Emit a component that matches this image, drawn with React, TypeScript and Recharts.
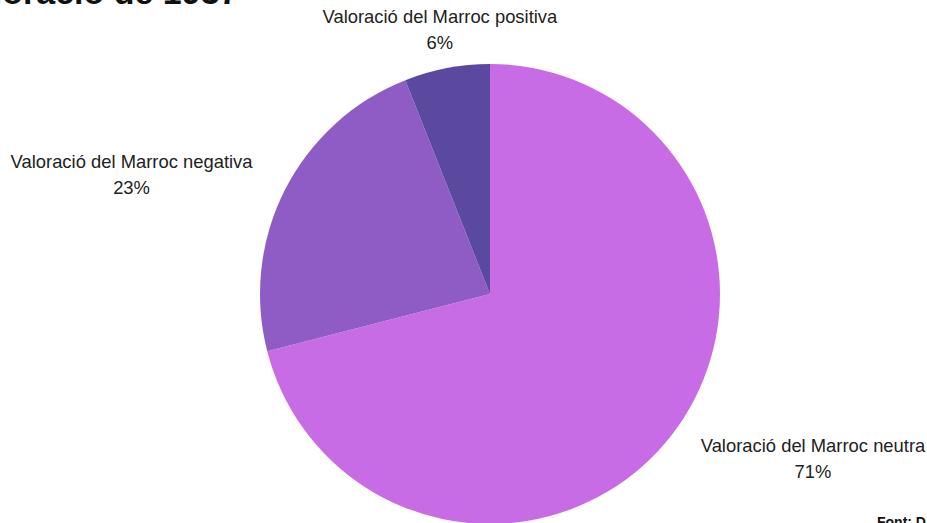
import React from "react";
import { PieChart, Pie, Cell } from "recharts";

const categories = [
  "Valoració del Marroc neutra",
  "Valoració del Marroc negativa",
  "Valoració del Marroc positiva",
];
const values = [71, 23, 6];
const colors = ["#C86CE6", "#8F5CC6", "#5B489F"];

const data = categories.map((name, i) => ({ name, value: values[i] }));

const RAD = Math.PI / 180;
const FONT = "'Liberation Sans', Arial, sans-serif";
const FS = 18.4;
const LH = 26;

const renderLabel = (props: any) => {
  const { cx, cy, midAngle, outerRadius, name, percent } = props;
  const r = outerRadius + 32;
  const cos = Math.cos(-midAngle * RAD);
  const sin = Math.sin(-midAngle * RAD);
  const x = cx + r * cos;
  const y = cy + r * sin;
  const pct = `${Math.round(percent * 100)}%`;
  let lx = x;
  let y0 = y - LH / 2;
  if (Math.abs(cos) < 0.3) {
    lx = x - 1;
    y0 = y - LH + 6;
  } else if (cos > 0) {
    lx = x + 116;
    y0 = y - LH / 2 + 4;
  } else {
    lx = x - 125;
    y0 = y - LH / 2 - 1;
  }
  return (
    <text
      x={lx}
      y={y0}
      textAnchor="middle"
      fill="#222222"
      fontFamily={FONT}
      fontSize={FS}
    >
      <tspan x={lx} dy={0} dominantBaseline="central">{name}</tspan>
      <tspan x={lx} dy={LH} dominantBaseline="central">{pct}</tspan>
    </text>
  );
};

export default function App() {
  return (
    <div
      style={{
        position: "absolute",
        left: 0,
        top: 0,
        width: 927,
        height: 523,
        overflow: "hidden",
        background: "#ffffff",
      }}
    >
      <div
        style={{
          position: "absolute",
          left: -45,
          top: -27,
          fontFamily: FONT,
          fontWeight: 700,
          fontSize: 34,
          color: "#111111",
          whiteSpace: "nowrap",
        }}
      >
        valoració de 1937
      </div>
      <PieChart
        width={927}
        height={523}
        margin={{ top: 0, right: 0, bottom: 0, left: 0 }}
      >
        <Pie
          data={data}
          dataKey="value"
          nameKey="name"
          cx={490}
          cy={294}
          outerRadius={230}
          startAngle={90}
          endAngle={-270}
          stroke="none"
          label={renderLabel}
          labelLine={false}
          isAnimationActive={false}
        >
          {data.map((d, i) => (
            <Cell key={d.name} fill={colors[i]} />
          ))}
        </Pie>
      </PieChart>
      <div
        style={{
          position: "absolute",
          left: 877,
          top: 514,
          fontFamily: FONT,
          fontWeight: 700,
          fontSize: 14,
          color: "#111111",
          whiteSpace: "nowrap",
        }}
      >
        Font: D
      </div>
    </div>
  );
}
